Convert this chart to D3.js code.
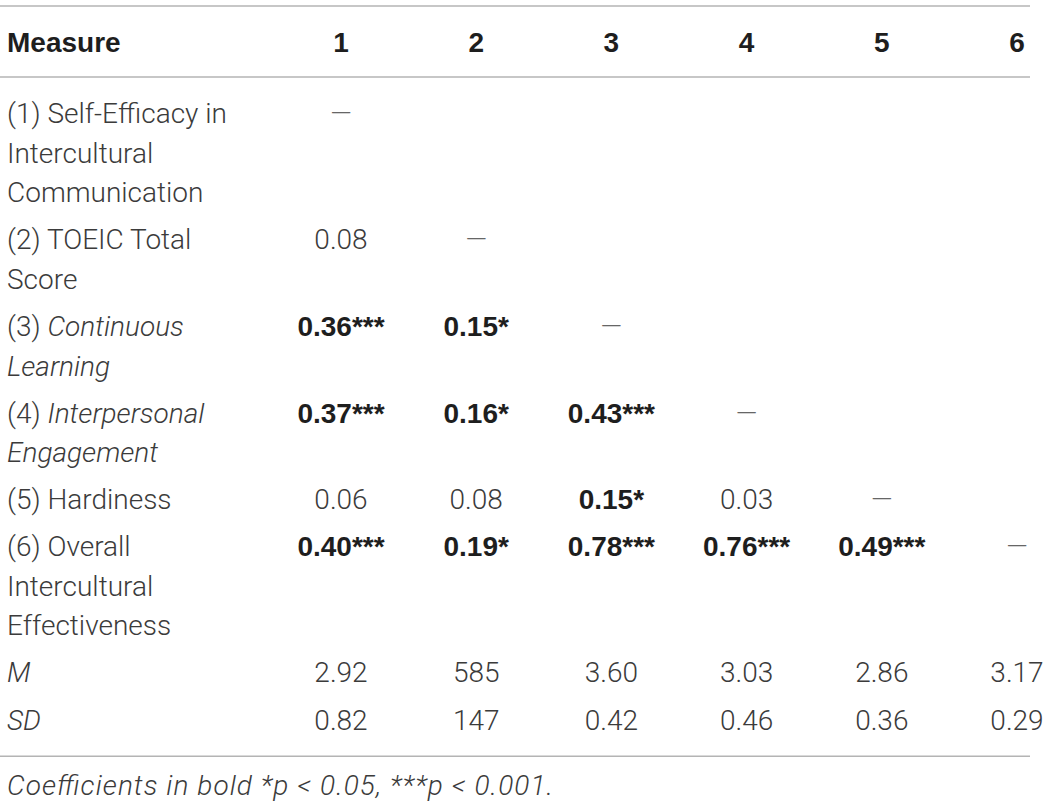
<!DOCTYPE html>
<html>
<head>
<meta charset="utf-8">
<script src="https://cdn.jsdelivr.net/npm/d3@7"></script>
<style>
    body { margin: 0; background: #fff; }
    svg text { font-family: Roboto, "Liberation Sans", sans-serif; }
    svg text.bold { font-family: "Liberation Sans", Arial, sans-serif; font-weight: bold; }
</style>
</head>
<body>
<svg id="svgCorrTable"></svg>
<script>
// Table content
const columns = ['1', '2', '3', '4', '5', '6'];
const headerLabel = 'Measure';

// label lines, _text_ = italic
const measureLabels = [
    ['(1) Self-Efficacy in', 'Intercultural', 'Communication'],
    ['(2) TOEIC Total', 'Score'],
    ['(3) _Continuous_', '_Learning_'],
    ['(4) _Interpersonal_', '_Engagement_'],
    ['(5) Hardiness'],
    ['(6) Overall', 'Intercultural', 'Effectiveness']
];

const corrValues = [
    [],
    [0.08],
    [0.36, 0.15],
    [0.37, 0.16, 0.43],
    [0.06, 0.08, 0.15, 0.03],
    [0.40, 0.19, 0.78, 0.76, 0.49]
];

// number of stars per coefficient (0 = not significant)
const corrStars = [
    [],
    [0],
    [3, 1],
    [3, 1, 3],
    [0, 0, 1, 0],
    [3, 1, 3, 3, 3]
];

const statLabels = ['_M_', '_SD_'];
const means = [2.92, 585, 3.60, 3.03, 2.86, 3.17];
const sds = [0.82, 147, 0.42, 0.46, 0.36, 0.29];
const statDecimals = [2, 0, 2, 2, 2, 2];

const footnote = 'Coefficients in bold *p < 0.05, ***p < 0.001.';

// Layout
const width = 1054;
const height = 806;
const fontSize = 28;
const lineHeight = 39.5;
const rowGap = 7.6;
const ruleTop = 6;
const headerHeight = 71;
const bodyPadTop = 16.5;
const bodyPadBottom = 17;
const ruleRight = 1030;
const labelX = 7;
const footnoteWidth = 546;

const textColor = '#3b3b3b';
const boldColor = '#1e1e1e';
const dashColor = '#666';
const ruleColor = '#b4b4b4';

const svg = d3.select('#svgCorrTable')
    .attr('width', width)
    .attr('height', height);

const x = d3.scalePoint()
    .domain(columns)
    .range([341, 1017]);

const fmt2 = d3.format('.2f');

// Build rows
let rows = measureLabels.map((lines, i) => ({
    lines: lines,
    cells: columns.map((c, j) => {
        if(j < i) {
            const stars = corrStars[i][j];
            return {col: c, text: fmt2(corrValues[i][j]) + '*'.repeat(stars), bold: stars > 0};
        }
        if(j === i) return {col: c, text: '\u2014', dash: true};
        return null;
    }).filter(d => d)
}));

[means, sds].forEach((vals, k) => {
    rows.push({
        lines: [statLabels[k]],
        cells: columns.map((c, j) => ({col: c, text: d3.format(`.${statDecimals[j]}f`)(vals[j])}))
    });
});

// vertical positions (centre of first line of each row)
const headerY = ruleTop + headerHeight / 2;
const headerRuleY = ruleTop + headerHeight;
let yCursor = headerRuleY + bodyPadTop + lineHeight / 2;
rows.forEach(r => {
    r.y = yCursor;
    yCursor += r.lines.length * lineHeight + rowGap;
});
const bottomRuleY = yCursor - rowGap - lineHeight / 2 + bodyPadBottom;

// Rules
svg.selectAll('.rule')
    .data([ruleTop, headerRuleY, bottomRuleY])
    .join('line')
        .classed('rule', true)
        .attr('x1', 0)
        .attr('x2', ruleRight)
        .attr('y1', d => d)
        .attr('y2', d => d)
        .style('stroke', ruleColor)
        .style('stroke-width', '1.5');

// Header
svg.append('text')
    .classed('bold', true)
    .attr('x', labelX)
    .attr('y', headerY)
    .attr('dy', '0.36em')
    .style('font-size', `${fontSize}px`)
    .style('fill', boldColor)
    .text(headerLabel);

svg.selectAll('.colHeader')
    .data(columns)
    .join('text')
        .classed('colHeader bold', true)
        .attr('x', d => x(d))
        .attr('y', headerY)
        .attr('dy', '0.36em')
        .style('text-anchor', 'middle')
        .style('font-size', `${fontSize}px`)
        .style('fill', boldColor)
        .text(d => d);

// Row labels with italic parts
function addSegments(textSel, str) {
    str.split(/(_[^_]+_)/).filter(s => s.length).forEach(s => {
        const it = s.startsWith('_');
        textSel.append('tspan')
            .style('font-style', it ? 'italic' : 'normal')
            .text(it ? s.slice(1, -1) : s);
    });
}

const rowG = svg.selectAll('.bodyRow')
    .data(rows)
    .join('g')
        .classed('bodyRow', true);

rowG.each(function(r) {
    const g = d3.select(this);
    r.lines.forEach((line, li) => {
        const t = g.append('text')
            .attr('x', labelX)
            .attr('y', r.y + li * lineHeight)
            .attr('dy', '0.36em')
            .style('font-size', `${fontSize}px`)
            .style('font-weight', '300')
            .style('fill', textColor);
        addSegments(t, line);
    });
});

rowG.selectAll('.cell')
    .data(r => r.cells.map(c => Object.assign({y: r.y}, c)))
    .join('text')
        .attr('class', d => d.bold ? 'cell bold' : 'cell')
        .attr('x', d => x(d.col))
        .attr('y', d => d.y)
        .attr('dy', '0.36em')
        .style('text-anchor', 'middle')
        .style('font-size', `${fontSize}px`)
        .style('font-weight', d => d.bold ? 'bold' : '300')
        .style('fill', d => d.bold ? boldColor : (d.dash ? dashColor : textColor))
        .text(d => d.text);

// Footnote
svg.append('text')
    .attr('x', labelX)
    .attr('y', bottomRuleY + 29)
    .attr('dy', '0.36em')
    .attr('textLength', footnoteWidth)
    .attr('lengthAdjust', 'spacing')
    .style('font-size', `${fontSize}px`)
    .style('font-style', 'italic')
    .style('font-weight', '300')
    .style('fill', textColor)
    .text(footnote);
</script>
</body>
</html>
